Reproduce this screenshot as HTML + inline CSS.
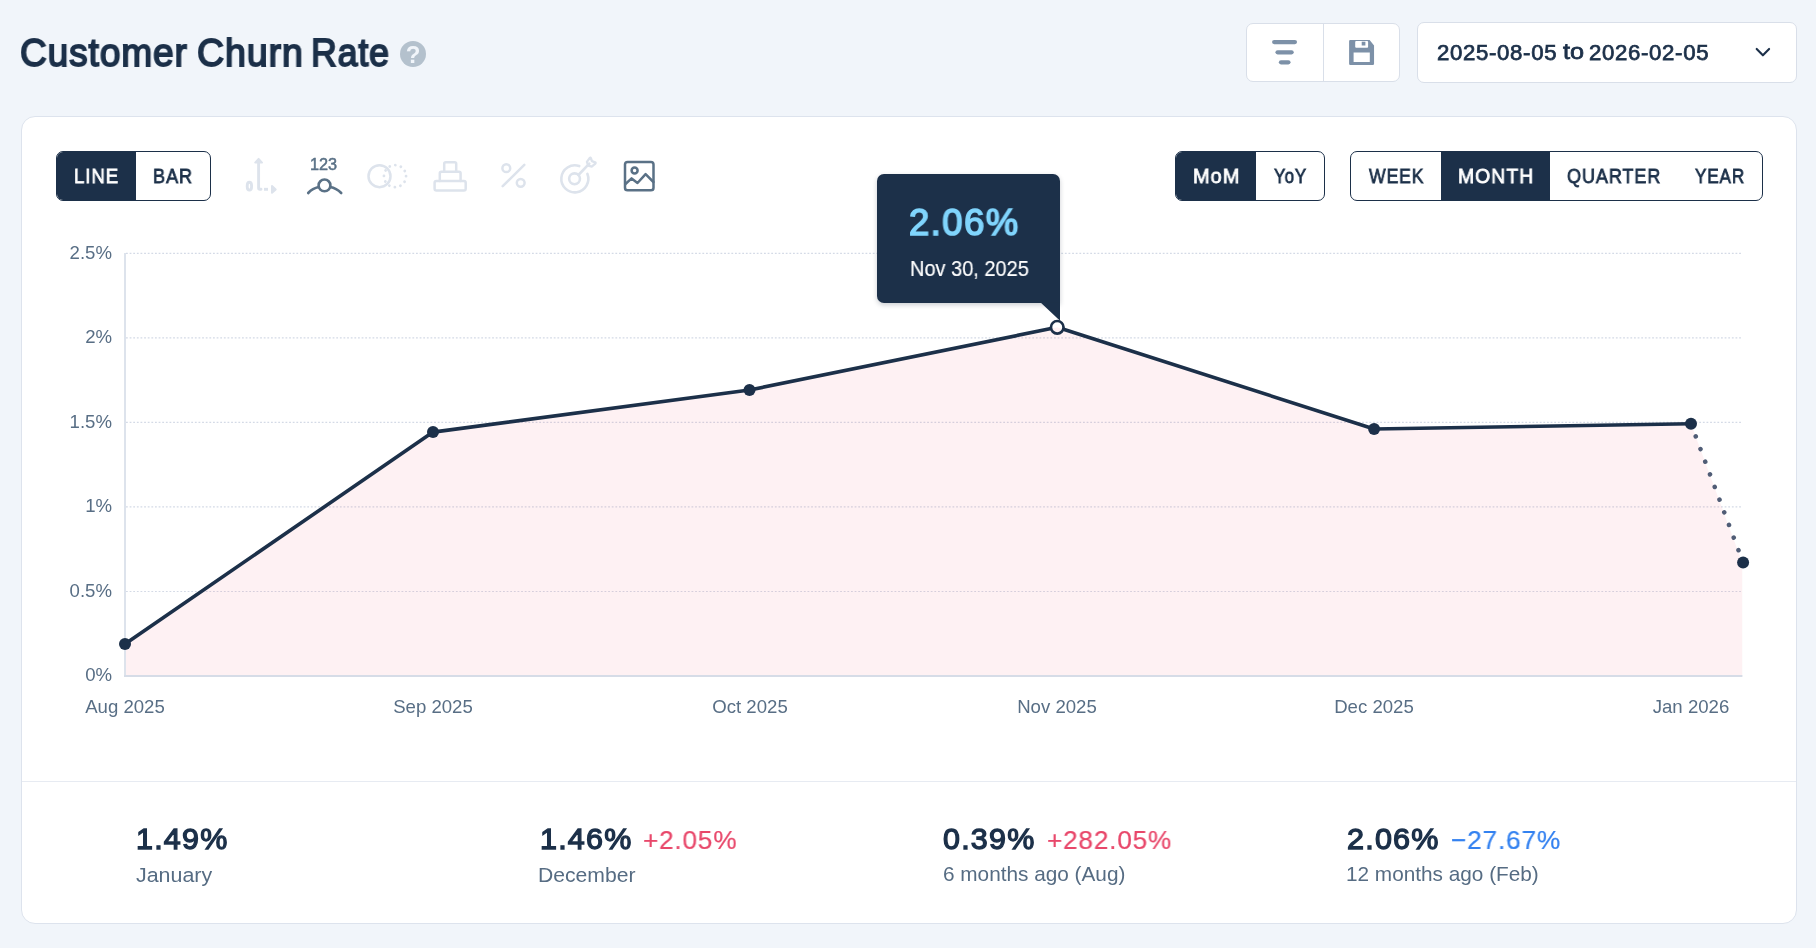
<!DOCTYPE html>
<html lang="en">
<head>
<meta charset="utf-8">
<title>Customer Churn Rate</title>
<style>
*{box-sizing:border-box;margin:0;padding:0}
html,body{width:1816px;height:948px;overflow:hidden}
body{background:#f1f5fa;font-family:"Liberation Sans",sans-serif;position:relative;color:#1c3049}
.abs{position:absolute}
.t{position:absolute;white-space:nowrap;line-height:1;transform-origin:0 0;display:block;will-change:transform}
.card{position:absolute;left:21px;top:116px;width:1776px;height:808px;background:#fff;border:1px solid #dde3ed;border-radius:14px}
.divider{position:absolute;left:22px;top:781px;width:1774px;height:1px;background:#e7ebf2}
.grp{position:absolute;top:151px;height:50px;border:1.3px solid #1c3049;border-radius:7px;background:#fff;overflow:hidden}
.grp .on{position:absolute;top:-2px;bottom:-2px;background:#1c3049}
.hbtn{position:absolute;background:#fff;border:1px solid #d9dfe9;border-radius:7px}
.help{position:absolute;left:400px;top:41px;width:26px;height:26px;border-radius:50%;background:#b4c1cd}
.help b{will-change:transform;position:absolute;left:0;width:26px;text-align:center;top:1.7px;font-size:24px;line-height:24px;color:#f1f5fa;font-weight:700}
.ax{position:absolute;font-size:18.6px;line-height:18px;color:#586e85;white-space:nowrap;will-change:transform}
.yl{left:32px;width:80px;text-align:right}
.xl{top:697.5px;width:120px;text-align:center}
.chart{position:absolute;left:0;top:0}
.ico{position:absolute;overflow:visible}
.tip{position:absolute;left:877px;top:174px;width:183px;height:128.5px;background:#1c3049;border-radius:7px 7px 0 7px;box-shadow:0 2px 5px rgba(20,30,50,.22)}
</style>
</head>
<body>
<div class="help"><b>?</b></div>

<!-- header buttons -->
<div class="hbtn" style="left:1246px;top:23px;width:154px;height:59px"></div>
<div class="abs" style="left:1323px;top:24px;width:1px;height:57px;background:#d9dfe9"></div>
<div class="hbtn" style="left:1417px;top:22px;width:380px;height:61px"></div>
<svg class="ico" style="left:1246px;top:23px" width="154" height="59" viewBox="1246 23 154 59">
  <g stroke="#7d91a8" stroke-width="4.3" stroke-linecap="round">
    <line x1="1274.2" y1="42.1" x2="1294.9" y2="42.1"/>
    <line x1="1277.6" y1="52.3" x2="1291.6" y2="52.3"/>
    <line x1="1281" y1="62.35" x2="1288.4" y2="62.35"/>
  </g>
  <path fill="#7d91a8" fill-rule="evenodd" d="M1350.3,40.05 H1369.6 L1374.05,45.6 V63.7 a1.2,1.2 0 0 1 -1.2,1.2 H1350.3 a1.2,1.2 0 0 1 -1.2,-1.2 V41.25 a1.2,1.2 0 0 1 1.2,-1.2 Z
    M1356.2,41.1 H1367.1 a1,1 0 0 1 1,1 V46.8 a1,1 0 0 1 -1,1 H1356.2 a1,1 0 0 1 -1,-1 V42.1 a1,1 0 0 1 1,-1 Z
    M1353.6,52.5 H1369.8 V62.1 H1353.6 Z"/>
  <rect x="1361.7" y="41.7" width="3.7" height="3.8" fill="#7d91a8"/>
</svg>
<svg class="ico" style="left:1750px;top:40px" width="26" height="24" viewBox="1750 40 26 24">
  <path d="M1756.7,48.9 L1762.9,55.3 L1769.1,48.9" fill="none" stroke="#1c3049" stroke-width="2.1" stroke-linecap="round" stroke-linejoin="round"/>
</svg>


<div class="card"></div>
<div class="divider"></div>

<!-- toggle groups -->
<div class="grp" style="left:56px;width:155px"><div class="on" style="left:-2px;width:81px"></div></div>
<div class="grp" style="left:1175px;width:150px"><div class="on" style="left:-2px;width:82px"></div></div>
<div class="grp" style="left:1350px;width:413px"><div class="on" style="left:90px;width:109px"></div></div>

<svg class="ico" style="left:236px;top:150px" width="430" height="52" viewBox="236 150 430 52" fill="none" stroke-linecap="round" stroke-linejoin="round">
  <!-- 1: axis (disabled) -->
  <g stroke="#dde3ec" stroke-width="2.9">
    <path d="M258.6,161 V188 Q258.6,189.3 259.9,189.3 H261"/>
    <path d="M255.2,162.6 L258.6,158.9 L262,162.6 Z" fill="#dde3ec" stroke-width="2"/>
    <path d="M264,189.3 H268" stroke-linecap="butt"/>
    <path d="M272,186 L275.7,189.4 L272,192.8 Z" fill="#dde3ec" stroke-width="2"/>
    <ellipse cx="249.4" cy="186.2" rx="2.2" ry="3.9" stroke-width="2.9"/>
  </g>
  <!-- 2: data labels (active) -->
  <g stroke="#5a7186" stroke-width="2.6">
    <circle cx="324.5" cy="185.4" r="5.9"/>
    <path d="M308.2,193 Q312.6,188.2 318.8,187"/>
    <path d="M330.2,187 Q336.4,188.2 341.2,193"/>
  </g>
  <!-- 3: compare circles (disabled) -->
  <g stroke="#dde3ec" stroke-width="2.5">
    <circle cx="379.5" cy="176.2" r="11"/>
    <circle cx="395" cy="176.15" r="11.05" stroke-dasharray="0.01 5.7757" stroke-width="2.8"/>
  </g>
  <!-- 4: stacked (disabled) -->
  <g stroke="#dde3ec" stroke-width="2.5">
    <rect x="434.6" y="181" width="31.1" height="9.6" rx="1.8"/>
    <path d="M439.8,181 V173.4 a1.6,1.6 0 0 1 1.6,-1.6 H459 a1.6,1.6 0 0 1 1.6,1.6 V181"/>
    <path d="M444.2,171.8 V163.8 a1.6,1.6 0 0 1 1.6,-1.6 H454.6 a1.6,1.6 0 0 1 1.6,1.6 V171.8"/>
  </g>
  <!-- 5: percent (disabled) -->
  <g stroke="#dde3ec" stroke-width="2.5">
    <path d="M524.3,164.8 L502.7,186.2"/>
    <circle cx="506.3" cy="168.2" r="3.9"/>
    <circle cx="520.7" cy="182.8" r="3.9"/>
  </g>
  <!-- 6: target (disabled) -->
  <g stroke="#dde3ec" stroke-width="2.6">
    <path d="M579.2,166.1 A13.5,13.5 0 1 0 587.35,173.85"/>
    <circle cx="574.55" cy="178.8" r="5.4"/>
    <path d="M578.4,175 L589.3,163.6"/>
    <path d="M586.9,161.8 L589.8,157.8 Q590.5,157.2 590.9,158.2 L591.9,161.2 L595.1,162.3 Q596,162.8 595.4,163.6 L591.7,166.6 L588.3,165.7 Z" stroke-width="2.3"/>
  </g>
  <!-- 7: image (active) -->
  <g stroke="#5a7186" stroke-width="2.5">
    <rect x="625" y="161.9" width="28.5" height="28.4" rx="2.6"/>
    <circle cx="634.6" cy="170.6" r="3"/>
    <path d="M625.2,184.2 L631.6,178.4 L637.5,183 L645.6,174.2 L653.4,182"/>
  </g>
</svg>


<svg class="chart" width="1816" height="948" viewBox="0 0 1816 948">
<line x1="126" y1="591.48" x2="1742.6" y2="591.48" stroke="#d4dae6" stroke-width="1.2" stroke-dasharray="1.8 1.825"/>
<line x1="126" y1="506.95" x2="1742.6" y2="506.95" stroke="#d4dae6" stroke-width="1.2" stroke-dasharray="1.8 1.825"/>
<line x1="126" y1="422.42" x2="1742.6" y2="422.42" stroke="#d4dae6" stroke-width="1.2" stroke-dasharray="1.8 1.825"/>
<line x1="126" y1="337.90" x2="1742.6" y2="337.90" stroke="#d4dae6" stroke-width="1.2" stroke-dasharray="1.8 1.825"/>
<line x1="126" y1="253.38" x2="1742.6" y2="253.38" stroke="#d4dae6" stroke-width="1.2" stroke-dasharray="1.8 1.825"/>
<path d="M125,676 L125,644 L433,432.1 L749.5,390 L1057.25,327.3 L1374.1,429 L1691,423.75 L1742.1999999999998,562.5 L1742.1999999999998,676 Z" fill="rgb(243,80,105)" fill-opacity="0.08"/>
<rect x="124" y="253" width="2" height="424" fill="#dde3ec"/>
<rect x="124" y="675" width="1618.4" height="2" fill="#d6dce7"/>
<path d="M125,644 L433,432.1 L749.5,390 L1057.25,327.3 L1374.1,429 L1691,423.75" fill="none" stroke="#1c3049" stroke-width="3.6" stroke-linejoin="round" stroke-linecap="round"/>
<line x1="1691" y1="423.75" x2="1743.1" y2="562.5" stroke="#505d76" stroke-width="4.6" stroke-linecap="round" stroke-dasharray="0.01 13.5"/>
<circle cx="125" cy="644" r="6" fill="#1c3049"/>
<circle cx="433" cy="432.1" r="6" fill="#1c3049"/>
<circle cx="749.5" cy="390" r="6" fill="#1c3049"/>
<circle cx="1374.1" cy="429" r="6" fill="#1c3049"/>
<circle cx="1691" cy="423.75" r="6" fill="#1c3049"/>
<circle cx="1743.1" cy="562.5" r="6" fill="#1c3049"/>
</svg>
<span class="ax yl" style="top:666.45px">0%</span>
<span class="ax yl" style="top:581.93px">0.5%</span>
<span class="ax yl" style="top:497.40px">1%</span>
<span class="ax yl" style="top:412.87px">1.5%</span>
<span class="ax yl" style="top:328.35px">2%</span>
<span class="ax yl" style="top:243.82px">2.5%</span>
<span class="ax xl" style="left:65.00px">Aug 2025</span>
<span class="ax xl" style="left:373.00px">Sep 2025</span>
<span class="ax xl" style="left:689.50px">Oct 2025</span>
<span class="ax xl" style="left:997.25px">Nov 2025</span>
<span class="ax xl" style="left:1314.10px">Dec 2025</span>
<span class="ax xl" style="left:1631.00px">Jan 2026</span>

<!-- tooltip -->
<div class="tip"></div>
<svg class="ico" style="left:1036px;top:300px" width="30" height="40" viewBox="0 0 30 40">
  <path d="M4.6,2.4 L24,2.4 L24,20.8 Z" fill="#1c3049"/>
  <defs><clipPath id="mk"><circle cx="21.25" cy="27.3" r="6.3"/></clipPath></defs>
  <circle cx="21.25" cy="27.3" r="6.3" fill="#fff"/>
  <path d="M11.25,29.34 L21.25,27.3 L31.25,30.51 V40 H11.25 Z" fill="rgb(243,80,105)" fill-opacity="0.08" clip-path="url(#mk)"/>
  <circle cx="21.25" cy="27.3" r="6.3" fill="none" stroke="#1c3049" stroke-width="2.7"/>
</svg>

<span class="t" style="left:19.87px;top:33.44px;font-size:39.17px;color:#1c3049;-webkit-text-stroke:1.8px #1c3049;letter-spacing:0.98px;transform:scaleX(0.9452);">Customer</span>
<span class="t" style="left:196.60px;top:33.44px;font-size:39.17px;color:#1c3049;-webkit-text-stroke:1.8px #1c3049;letter-spacing:0.98px;transform:scaleX(0.9574);">Churn</span>
<span class="t" style="left:311.28px;top:33.44px;font-size:39.17px;color:#1c3049;-webkit-text-stroke:1.8px #1c3049;letter-spacing:0.98px;transform:scaleX(0.9115);">Rate</span>
<span class="t" style="left:74.03px;top:165.80px;font-size:20.8px;color:#fff;-webkit-text-stroke:0.79px #fff;letter-spacing:1.04px;transform:scaleX(0.8933);">LINE</span>
<span class="t" style="left:153.36px;top:165.80px;font-size:20.8px;color:#1c3049;-webkit-text-stroke:0.79px #1c3049;letter-spacing:1.04px;transform:scaleX(0.8718);">BAR</span>
<span class="t" style="left:1193.00px;top:165.80px;font-size:20.8px;color:#fff;-webkit-text-stroke:0.79px #fff;letter-spacing:1.04px;transform:scaleX(0.9614);">MoM</span>
<span class="t" style="left:1274.25px;top:165.80px;font-size:20.8px;color:#1c3049;-webkit-text-stroke:0.79px #1c3049;letter-spacing:1.04px;transform:scaleX(0.8164);">YoY</span>
<span class="t" style="left:1369.08px;top:165.80px;font-size:20.8px;color:#1c3049;-webkit-text-stroke:0.79px #1c3049;letter-spacing:1.04px;transform:scaleX(0.8463);">WEEK</span>
<span class="t" style="left:1458.03px;top:165.80px;font-size:20.8px;color:#fff;-webkit-text-stroke:0.79px #fff;letter-spacing:1.04px;transform:scaleX(0.9341);">MONTH</span>
<span class="t" style="left:1567.31px;top:165.80px;font-size:20.8px;color:#1c3049;-webkit-text-stroke:0.79px #1c3049;letter-spacing:1.04px;transform:scaleX(0.8683);">QUARTER</span>
<span class="t" style="left:1695.25px;top:165.80px;font-size:20.8px;color:#1c3049;-webkit-text-stroke:0.79px #1c3049;letter-spacing:1.04px;transform:scaleX(0.8231);">YEAR</span>
<span class="t" style="left:1436.78px;top:41.58px;font-size:22.2px;color:#1c3049;-webkit-text-stroke:0.75px #1c3049;letter-spacing:0.67px;">2025-08-05</span>
<span class="t" style="left:1562.70px;top:41.23px;font-size:22.6px;color:#1c3049;-webkit-text-stroke:0.77px #1c3049;transform:scaleX(1.1193);">to</span>
<span class="t" style="left:1589.28px;top:41.58px;font-size:22.2px;color:#1c3049;-webkit-text-stroke:0.75px #1c3049;letter-spacing:0.67px;">2026-02-05</span>
<span class="t" style="left:309.61px;top:156.84px;font-size:15.8px;color:#5a7186;-webkit-text-stroke:0.47px #5a7186;transform:scaleX(1.0303);">123</span>
<span class="t" style="left:909.09px;top:203.81px;font-size:37.06px;color:#80d5fd;-webkit-text-stroke:1.63px #80d5fd;letter-spacing:1.48px;transform:scaleX(0.9837);">2.06%</span>
<span class="t" style="left:909.79px;top:258.59px;font-size:21.41px;color:#fff;-webkit-text-stroke:0.17px #fff;transform:scaleX(0.9334);">Nov 30, 2025</span>
<span class="t" style="left:135.76px;top:823.67px;font-size:30.32px;color:#1c3049;-webkit-text-stroke:1.33px #1c3049;letter-spacing:1.21px;transform:scaleX(1.0046);">1.49%</span>
<span class="t" style="left:135.95px;top:864.16px;font-size:21.08px;color:#566c83;transform:scaleX(1.0147);">January</span>
<span class="t" style="left:539.51px;top:823.67px;font-size:30.32px;color:#1c3049;-webkit-text-stroke:1.33px #1c3049;letter-spacing:1.21px;transform:scaleX(1.0046);">1.46%</span>
<span class="t" style="left:643.38px;top:827.41px;font-size:26.56px;color:#e8476a;-webkit-text-stroke:0.21px #e8476a;letter-spacing:0.8px;transform:scaleX(0.9866);">+2.05%</span>
<span class="t" style="left:538.29px;top:864.16px;font-size:21.08px;color:#566c83;transform:scaleX(1.0030);">December</span>
<span class="t" style="left:943.47px;top:823.67px;font-size:30.32px;color:#1c3049;-webkit-text-stroke:1.33px #1c3049;letter-spacing:1.21px;transform:scaleX(1.0051);">0.39%</span>
<span class="t" style="left:1047.13px;top:827.41px;font-size:26.56px;color:#e8476a;-webkit-text-stroke:0.21px #e8476a;letter-spacing:0.8px;transform:scaleX(0.9868);">+282.05%</span>
<span class="t" style="left:942.75px;top:864.42px;font-size:20.77px;color:#566c83;">6 months ago (Aug)</span>
<span class="t" style="left:1346.74px;top:823.67px;font-size:30.32px;color:#1c3049;-webkit-text-stroke:1.33px #1c3049;letter-spacing:1.21px;transform:scaleX(1.0076);">2.06%</span>
<span class="t" style="left:1450.62px;top:827.41px;font-size:26.56px;color:#3381f0;-webkit-text-stroke:0.21px #3381f0;letter-spacing:0.8px;transform:scaleX(0.9902);">−27.67%</span>
<span class="t" style="left:1346.00px;top:864.42px;font-size:20.77px;color:#566c83;">12 months ago (Feb)</span>
</body>
</html>
